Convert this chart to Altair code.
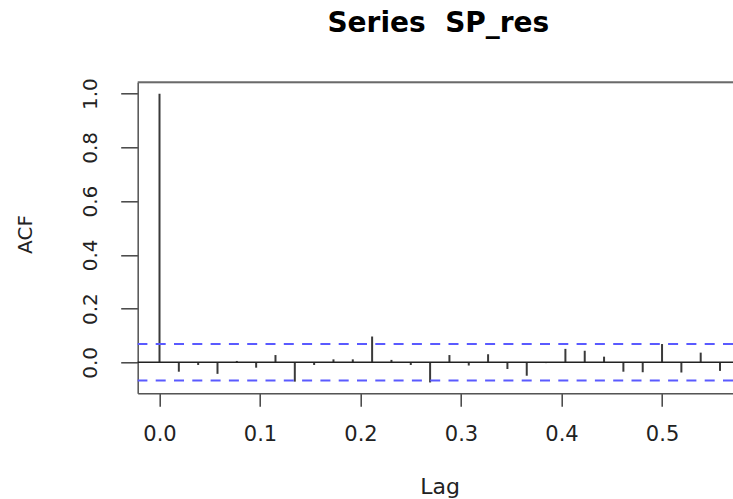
import altair as alt
import pandas as pd

# Autocorrelation of the SP residual series (weekly data, frequency 52)
lag_index = list(range(30))
acf_values = [
    1.000, -0.035, -0.010, -0.043, 0.005, -0.020, 0.027, -0.072, -0.010, 0.011,
    0.011, 0.096, 0.009, -0.010, -0.075, 0.027, -0.012, 0.030, -0.025, -0.050,
    -0.003, 0.050, 0.043, 0.021, -0.035, -0.037, 0.068, -0.038, 0.036, -0.032,
]
frequency = 52
conf_limit = 0.0678  # 1.96 / sqrt(n)

x_ticks = [0.0, 0.1, 0.2, 0.3, 0.4, 0.5]
y_ticks = [0.0, 0.2, 0.4, 0.6, 0.8, 1.0]

acf_df = pd.DataFrame({"lag": [k / frequency for k in lag_index], "acf": acf_values})
zero_df = pd.DataFrame({"acf": [0.0]})
conf_df = pd.DataFrame({"acf": [conf_limit, -conf_limit]})

FONT = "DejaVu Sans"
W, H = 595.3, 311

x_scale = alt.Scale(domain=[-0.0217, 0.5706], nice=False, zero=False)
y_scale = alt.Scale(domain=[-0.1154, 1.0424], nice=False, zero=False)

x_axis = alt.Axis(
    values=x_ticks, format=".1f", grid=False,
    labelFont=FONT, labelFontSize=21, labelColor="#222",
    labelBaseline="alphabetic", labelPadding=34, labelFlush=False,
    labelOverlap=False, labelBound=False,
    tickSize=13, tickColor="#444", tickWidth=1.5,
    domainColor="#555", domainWidth=1.5,
    title="Lag", titleFont=FONT, titleFontSize=22, titleFontWeight="normal",
    titleColor="#222", titleX=302, titleY=100, titleAlign="center",
    titleBaseline="alphabetic",
)
y_axis = alt.Axis(
    values=y_ticks, format=".1f", grid=False,
    labelFont=FONT, labelFontSize=20, labelColor="#222",
    labelAngle=270, labelAlign="center", labelBaseline="alphabetic",
    labelPadding=24, labelFlush=False, labelOverlap=False, labelBound=False,
    tickSize=17, tickColor="#444", tickWidth=1.5,
    domainColor="#555", domainWidth=1.5,
    title="ACF", titleFont=FONT, titleFontSize=20, titleFontWeight="normal",
    titleColor="#222", titleAngle=270, titleX=-106.4, titleY=151.7,
    titleAlign="center", titleBaseline="alphabetic",
)

bars = alt.Chart(acf_df).mark_rule(color="#3a3a3a", strokeWidth=2).encode(
    x=alt.X("lag:Q", scale=x_scale, axis=x_axis),
    y=alt.Y("acf:Q", scale=y_scale, axis=y_axis),
    y2=alt.datum(0),
)

zero_line = alt.Chart(zero_df).mark_rule(color="#222", strokeWidth=1.5).encode(
    y=alt.Y("acf:Q", scale=y_scale, axis=y_axis)
)

conf_lines = alt.Chart(conf_df).mark_rule(
    color="#5a5aff", strokeWidth=2, strokeDash=[10, 8.3]
).encode(y=alt.Y("acf:Q", scale=y_scale, axis=y_axis))

top_border = alt.Chart(zero_df).mark_rule(color="#6a6a6a", strokeWidth=2).encode(
    x=alt.value(0), x2=alt.value(W), y=alt.value(0)
)

chart = alt.layer(bars, conf_lines, zero_line, top_border).properties(
    width=W,
    height=H,
    title=alt.TitleParams(
        "Series\u00a0\u00a0SP_res", font=FONT, fontSize=28, fontWeight="bold",
        color="black", anchor="middle", baseline="alphabetic", offset=18, dx=3,
    ),
    padding={"left": 137.7, "top": 82.3, "right": 0, "bottom": 105.7},
    autosize=alt.AutoSizeParams(type="none"),
).configure_view(stroke=None).configure(background="white")

chart.save("out.html", embed_options={"renderer": "svg", "actions": False})
